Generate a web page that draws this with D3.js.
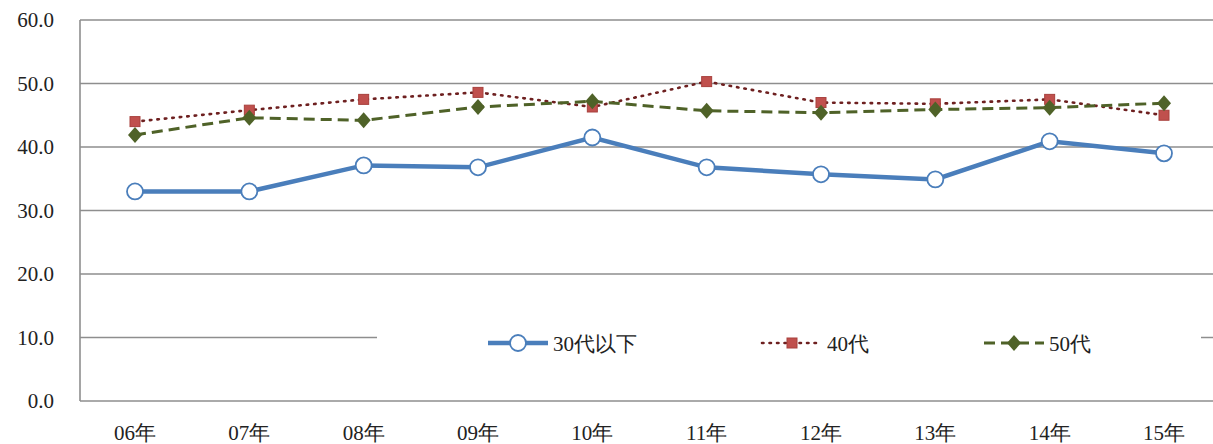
<!DOCTYPE html>
<html>
<head>
<meta charset="utf-8">
<script src="https://cdn.jsdelivr.net/npm/d3@7"></script>
<style>
  body { margin: 0; background: #fff; }
  svg text { font-family: "Times New Roman", "Liberation Serif", "DejaVu Serif", serif; }
</style>
</head>
<body>
<div id="chart"></div>
<script>
const years = ["06年", "07年", "08年", "09年", "10年", "11年", "12年", "13年", "14年", "15年"];
const under30 = [33.0, 33.0, 37.1, 36.8, 41.5, 36.8, 35.7, 34.9, 40.9, 39.0];
const age40 = [44.0, 45.8, 47.5, 48.6, 46.3, 50.3, 47.0, 46.8, 47.5, 45.0];
const age50 = [41.9, 44.6, 44.2, 46.3, 47.2, 45.7, 45.4, 45.9, 46.2, 46.9];
const yTicks = [0, 10, 20, 30, 40, 50, 60];

const width = 1213, height = 444;
const plotLeft = 80, plotTop = 20, plotBottom = 401;

const svg = d3.select("#chart").append("svg")
  .attr("width", width).attr("height", height);

const x = d3.scalePoint().domain(years).range([135, 1164]);
const y = d3.scaleLinear().domain([0, 60]).range([plotBottom, plotTop]);

// gridlines
svg.append("g").selectAll("line").data(yTicks).join("line")
  .attr("x1", plotLeft).attr("x2", width + 10)
  .attr("y1", d => y(d)).attr("y2", d => y(d))
  .attr("stroke", "#8e8e8e").attr("stroke-width", 1.6);

svg.append("line").attr("x1", plotLeft).attr("x2", plotLeft)
  .attr("y1", plotTop).attr("y2", plotBottom)
  .attr("stroke", "#8e8e8e").attr("stroke-width", 1.6);

// y labels
svg.append("g").selectAll("text").data(yTicks).join("text")
  .attr("x", 54).attr("y", d => y(d) + 7)
  .attr("text-anchor", "end").attr("font-size", 21)
  .attr("fill", "#222")
  .text(d => d3.format(".1f")(d));

// x labels
svg.append("g").selectAll("text").data(years).join("text")
  .attr("x", d => x(d)).attr("y", 440)
  .attr("text-anchor", "middle").attr("font-size", 21)
  .attr("fill", "#222")
  .text(d => d);

const line = d3.line().x((d, i) => x(years[i])).y(d => y(d));

const series = [
  { name: "30代以下", values: under30, color: "#4a7ebb", width: 4.5, dash: null, marker: "circle" },
  { name: "40代", values: age40, color: "#6e2020", width: 2.6, dash: "1.5,6", marker: "square" },
  { name: "50代", values: age50, color: "#4f6228", width: 3, dash: "11,6", marker: "diamond" }
];

function drawMarker(g, type, cx, cy) {
  if (type === "circle") {
    g.append("circle").attr("cx", cx).attr("cy", cy).attr("r", 8)
      .attr("fill", "#fff").attr("stroke", "#4a7ebb").attr("stroke-width", 1.8);
  } else if (type === "square") {
    g.append("rect").attr("x", cx - 5).attr("y", cy - 5).attr("width", 10).attr("height", 10)
      .attr("fill", "#c0504d").attr("stroke", "#a8403d").attr("stroke-width", 1);
  } else {
    g.append("path")
      .attr("d", `M${cx},${cy - 8}L${cx + 7},${cy}L${cx},${cy + 8}L${cx - 7},${cy}Z`)
      .attr("fill", "#4f6228");
  }
}

// 40代 first, 50代 over it, 30代以下 on top
[series[1], series[2], series[0]].forEach(s => {
  svg.append("path").datum(s.values)
    .attr("d", line).attr("fill", "none")
    .attr("stroke", s.color).attr("stroke-width", s.width)
    .attr("stroke-dasharray", s.dash)
    .attr("stroke-linecap", s.marker === "square" ? "round" : "butt");
  const g = svg.append("g");
  s.values.forEach((v, i) => drawMarker(g, s.marker, x(years[i]), y(v)));
});

// legend
const lg = svg.append("g");
lg.append("rect").attr("x", 377).attr("y", 322).attr("width", 824).attr("height", 40).attr("fill", "#fff");
const legendX = [488, 762, 984];
series.forEach((s, i) => {
  const lx = legendX[i], ly = 343;
  lg.append("line").attr("x1", lx).attr("x2", lx + 60).attr("y1", ly).attr("y2", ly)
    .attr("stroke", s.color).attr("stroke-width", s.width)
    .attr("stroke-dasharray", s.dash)
    .attr("stroke-linecap", s.marker === "square" ? "round" : "butt");
  drawMarker(lg, s.marker, lx + 30, ly);
  lg.append("text").attr("x", lx + 65).attr("y", ly + 8)
    .attr("font-size", 21).attr("fill", "#222").text(s.name);
});
</script>
</body>
</html>
